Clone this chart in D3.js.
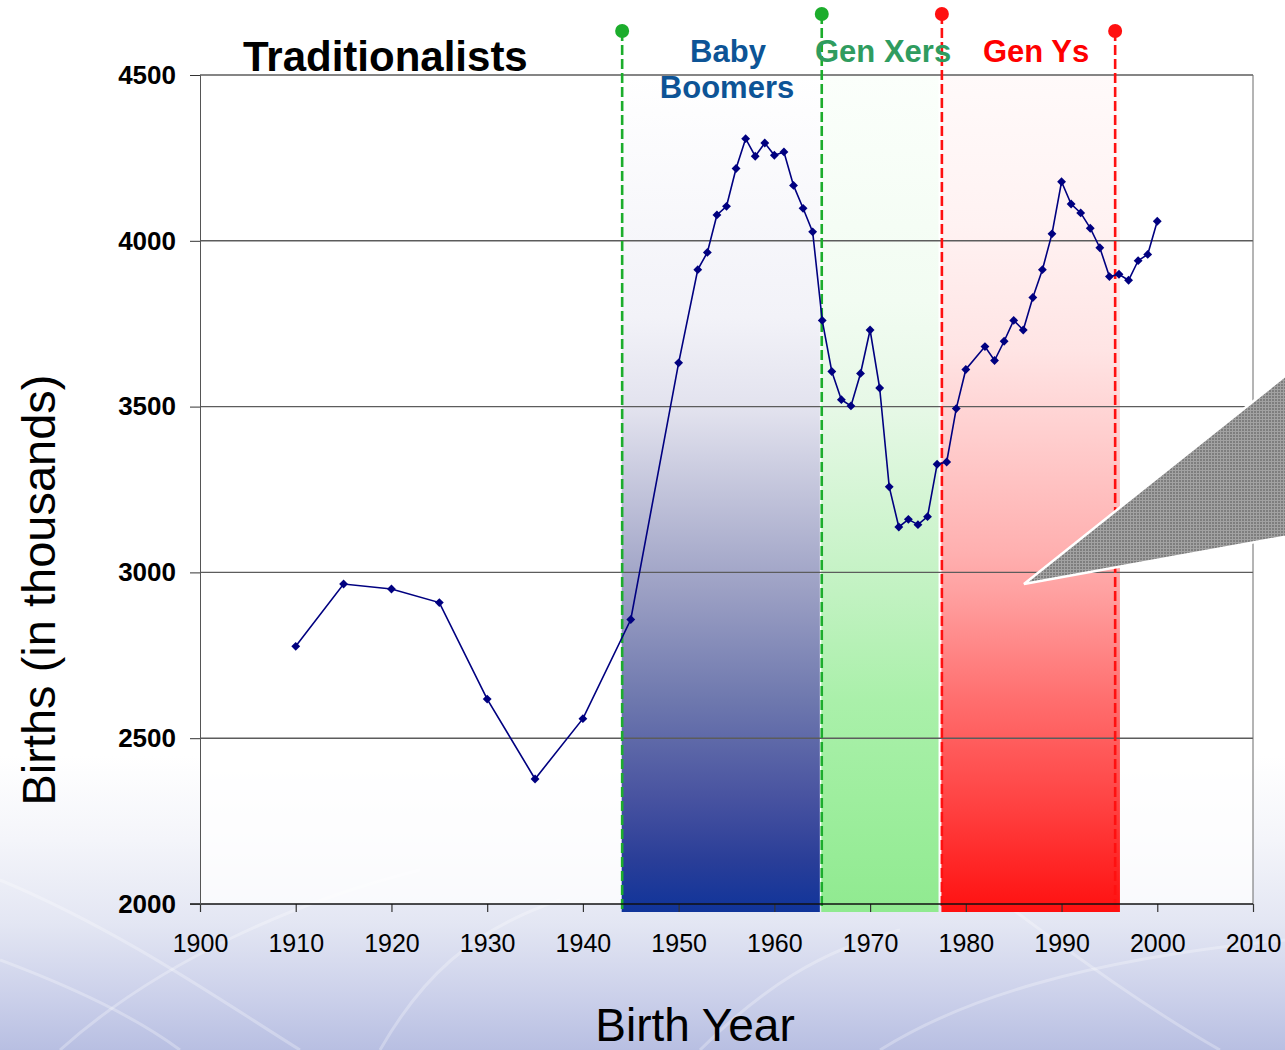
<!DOCTYPE html>
<html>
<head>
<meta charset="utf-8">
<script src="https://cdn.jsdelivr.net/npm/d3@7"></script>
<style>
  body { margin: 0; padding: 0; background: #fff; }
  svg { display: block; font-family: "Liberation Sans", Arial, sans-serif; }
</style>
</head>
<body>
<div id="chart"></div>
<script>
// births per year (thousands)
var years = [1910, 1915, 1920, 1925, 1930, 1935, 1940, 1945, 1950,
  1952, 1953, 1954, 1955, 1956, 1957, 1958, 1959, 1960, 1961, 1962, 1963, 1964,
  1965, 1966, 1967, 1968, 1969, 1970, 1971, 1972, 1973, 1974, 1975, 1976, 1977,
  1978, 1979, 1980, 1982, 1983, 1984, 1985, 1986, 1987, 1988, 1989, 1990,
  1991, 1992, 1993, 1994, 1995, 1996, 1997, 1998, 1999, 2000];
var births = [2777, 2965, 2950, 2909, 2618, 2377, 2559, 2858, 3632,
  3913, 3965, 4078, 4104, 4218, 4308, 4255, 4295, 4258, 4268, 4167, 4098, 4027,
  3760, 3606, 3521, 3502, 3600, 3731, 3556, 3258, 3137, 3160, 3144, 3168, 3326,
  3333, 3494, 3612, 3681, 3639, 3697, 3760, 3731, 3829, 3913, 4021, 4178,
  4111, 4084, 4038, 3979, 3892, 3899, 3881, 3940, 3959, 4059];

var xTicks = [1900, 1910, 1920, 1930, 1940, 1950, 1960, 1970, 1980, 1990, 2000, 2010];
var yTicks = [2000, 2500, 3000, 3500, 4000, 4500];

// generation bands (start / end year)
var bandNames = ["boomers", "xers", "ys"];
var bandStart = [1944.05, 1964.9, 1977.45];
var bandEnd = [1964.75, 1977.15, 1996.1];

// dashed marker lines
var markerYears = [1944.1, 1964.95, 1977.5, 1995.6];
var markerKind = ["green", "green", "red", "red"];

var W = 1285, H = 1050;
var margin = { left: 200, right: 32, top: 75, bottom: 146 };
var plotW = W - margin.left - margin.right;
var plotH = H - margin.top - margin.bottom;

var svg = d3.select("#chart").append("svg")
    .attr("width", W)
    .attr("height", H);

var defs = svg.append("defs");

function gradient(id, stops, y1, y2) {
    var g = defs.append("linearGradient")
        .attr("id", id)
        .attr("gradientUnits", "userSpaceOnUse")
        .attr("x1", 0).attr("x2", 0)
        .attr("y1", y1).attr("y2", y2);
    stops.forEach(function(s) {
        g.append("stop").attr("offset", s[0]).attr("stop-color", s[1]);
    });
}

gradient("bgGrad", [[0, "#ffffff"], [0.72, "#ffffff"], [0.8, "#f4f5fa"],
    [0.88, "#e3e6f3"], [0.95, "#cbd0ea"], [1, "#b8bfe2"]], 0, H);

var bandTop = margin.top, bandBottom = margin.top + plotH + 8;
gradient("grad-boomers", [[0, "#ffffff"], [0.29, "#f2f2f8"], [0.4, "#e2e2ee"],
    [0.615, "#9ca0c4"], [0.747, "#6e78ae"], [0.866, "#4752a0"], [0.938, "#2a3e98"],
    [1, "#10349a"]], bandTop, bandBottom);
gradient("grad-xers", [[0, "#fbfffb"], [0.27, "#f2fcf2"], [0.4, "#e6f8e6"],
    [0.615, "#c2f2c2"], [0.747, "#aaf0aa"], [0.866, "#9eee9e"], [1, "#90ea90"]],
    bandTop, bandBottom);
gradient("grad-ys", [[0, "#fffafa"], [0.18, "#fff2f2"], [0.33, "#ffe4e4"],
    [0.57, "#ffb0b0"], [0.62, "#ffa0a0"], [0.747, "#ff6e6e"], [0.866, "#ff4444"],
    [1, "#ff1010"]], bandTop, bandBottom);

var pat = defs.append("pattern")
    .attr("id", "hatch")
    .attr("patternUnits", "userSpaceOnUse")
    .attr("width", 3).attr("height", 3);
pat.append("rect").attr("width", 3).attr("height", 3).attr("fill", "#a2a2a2");
pat.append("rect").attr("width", 2).attr("height", 2).attr("fill", "#7e7e7e");

// background
svg.append("rect").attr("width", W).attr("height", H).attr("fill", "url(#bgGrad)");

// faint streaks in the lower background
var streaks = [
    "M0,880 C120,930 220,1000 300,1050",
    "M60,1050 C160,960 300,900 420,870",
    "M380,1050 C420,980 470,930 560,900",
    "M700,1050 C760,990 820,950 900,930",
    "M880,1050 C960,1000 1080,960 1285,940",
    "M1000,900 C1080,960 1150,1010 1220,1050",
    "M0,960 C80,990 140,1020 180,1050"
];
svg.append("g").selectAll("path").data(streaks).enter().append("path")
    .attr("d", function(d){ return d; })
    .attr("fill", "none")
    .attr("stroke", "#ffffff")
    .attr("stroke-opacity", 0.28)
    .attr("stroke-width", 3);

var x = d3.scaleLinear().domain([1900, 2010]).range([margin.left, margin.left + plotW]);
var y = d3.scaleLinear().domain([2000, 4500]).range([margin.top + plotH, margin.top]);

// plot area
svg.append("rect")
    .attr("x", x(1900)).attr("y", y(4500))
    .attr("width", x(2010) - x(1900)).attr("height", y(2000) - y(4500))
    .attr("fill", "#ffffff").attr("fill-opacity", 0.75);

// generation bands
svg.append("g").selectAll("rect").data(bandNames).enter().append("rect")
    .attr("x", function(d, i){ return x(bandStart[i]); })
    .attr("width", function(d, i){ return x(bandEnd[i]) - x(bandStart[i]); })
    .attr("y", bandTop)
    .attr("height", bandBottom - bandTop)
    .attr("fill", function(d){ return "url(#grad-" + d + ")"; });

// gridlines
svg.append("g").selectAll("line").data(yTicks.slice(1)).enter().append("line")
    .attr("x1", x(1900)).attr("x2", x(2010))
    .attr("y1", function(d){ return y(d); })
    .attr("y2", function(d){ return y(d); })
    .attr("stroke", "#5c5c5c")
    .attr("stroke-width", 1.4);

// right frame
svg.append("line")
    .attr("x1", x(2010)).attr("x2", x(2010))
    .attr("y1", y(4500)).attr("y2", y(2000))
    .attr("stroke", "#6a6a6a").attr("stroke-width", 1);

// dashed generation markers
var markerColor = { green: "#1cad2c", red: "#ff1010" };
var dotY = [31, 14, 14, 31];
svg.append("g").selectAll("line").data(markerYears).enter().append("line")
    .attr("x1", function(d){ return x(d); })
    .attr("x2", function(d){ return x(d); })
    .attr("y1", function(d, i){ return dotY[i]; })
    .attr("y2", bandBottom - 2)
    .attr("stroke", function(d, i){ return markerColor[markerKind[i]]; })
    .attr("stroke-width", 2.6)
    .attr("stroke-dasharray", "10,4");

// data line
var pts = years.map(function(d, i){ return [d, births[i]]; });
var line = d3.line()
    .x(function(d){ return x(d[0]); })
    .y(function(d){ return y(d[1]); });

svg.append("path")
    .datum(pts)
    .attr("d", line)
    .attr("fill", "none")
    .attr("stroke", "#000080")
    .attr("stroke-width", 1.6);

svg.append("g").selectAll("path").data(pts).enter().append("path")
    .attr("d", d3.symbol().type(d3.symbolDiamond2).size(50))
    .attr("transform", function(d){ return "translate(" + x(d[0]) + "," + y(d[1]) + ")"; })
    .attr("fill", "#000080");

// axes
var xAxis = svg.append("g")
    .attr("transform", "translate(0," + y(2000) + ")")
    .call(d3.axisBottom(x).tickValues(xTicks).tickFormat(d3.format("d")).tickSize(8).tickPadding(22));
xAxis.select(".domain").remove();
xAxis.selectAll(".tick line").attr("stroke", "#333").attr("stroke-width", 1.2);
xAxis.selectAll("text")
    .attr("font-size", 25)
    .attr("font-family", "Liberation Sans, Arial, sans-serif")
    .attr("fill", "#000");

svg.append("line")
    .attr("x1", x(1900) - 10).attr("x2", x(2010))
    .attr("y1", y(2000)).attr("y2", y(2000))
    .attr("stroke", "#111").attr("stroke-width", 1.6);

var yAxis = svg.append("g")
    .attr("transform", "translate(" + x(1900) + ",0)")
    .call(d3.axisLeft(y).tickValues(yTicks).tickFormat(d3.format("d")).tickSize(10).tickPadding(14));
yAxis.select(".domain").attr("stroke", "#555");
yAxis.selectAll(".tick line").attr("stroke", "#333");
yAxis.selectAll("text")
    .attr("font-size", 26)
    .attr("font-weight", "bold")
    .attr("font-family", "Liberation Sans, Arial, sans-serif")
    .attr("fill", "#000");

// grey callout
var callout = [[1024, 584], [1300, 364], [1300, 534]];
svg.append("polygon")
    .attr("points", callout.map(function(p){ return p.join(","); }).join(" "))
    .attr("fill", "url(#hatch)")
    .attr("stroke", "#ffffff")
    .attr("stroke-width", 2.5);

// marker dots
svg.append("g").selectAll("circle").data(markerYears).enter().append("circle")
    .attr("cx", function(d){ return x(d); })
    .attr("cy", function(d, i){ return dotY[i]; })
    .attr("r", 7)
    .attr("fill", function(d, i){ return markerColor[markerKind[i]]; });

// generation labels
function label(txt, px, py, size, color, anchor) {
    svg.append("text")
        .attr("x", px).attr("y", py)
        .attr("text-anchor", anchor || "start")
        .attr("font-size", size)
        .attr("font-weight", "bold")
        .attr("fill", color)
        .text(txt);
}
label("Traditionalists", 243, 71, 42, "#000000");
label("Baby", 728, 62, 31, "#0d5496", "middle");
label("Boomers", 727, 98, 31, "#0d5496", "middle");
label("Gen Xers", 815, 62, 31, "#2f9c5f");
label("Gen Ys", 983, 62, 31, "#ff0000");

// axis titles
svg.append("text")
    .attr("x", 695).attr("y", 1041)
    .attr("text-anchor", "middle")
    .attr("font-size", 46)
    .attr("fill", "#000")
    .text("Birth Year");

svg.append("text")
    .attr("transform", "translate(55,590) rotate(-90)")
    .attr("text-anchor", "middle")
    .attr("font-size", 47)
    .attr("fill", "#000")
    .text("Births (in thousands)");
</script>
</body>
</html>
